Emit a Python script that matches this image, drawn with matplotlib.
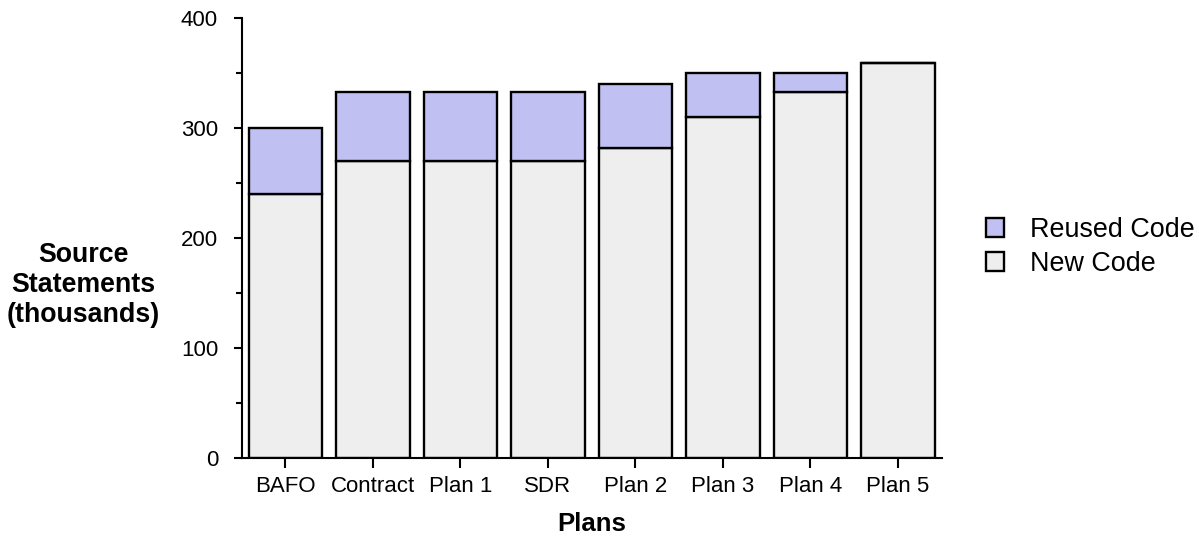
#!/usr/bin/env python3
"""Stacked bars: source statements per plan, new vs reused code."""

import matplotlib

matplotlib.use("Agg")

import matplotlib.pyplot as plt
import numpy as np
from matplotlib.ticker import MultipleLocator

plt.rcParams["font.family"] = ["Liberation Sans", "DejaVu Sans"]

# data (thousands of source statements)
plans = ["BAFO", "Contract", "Plan 1", "SDR", "Plan 2", "Plan 3", "Plan 4", "Plan 5"]
new_code = [240, 270, 270, 270, 281, 310, 332, 359]
reused_code = [60, 62, 62, 62, 59, 40, 18, 0]

NEW_COLOR = "#eeeeee"
REUSED_COLOR = "#c0c0f2"
EDGE_LW = 1.7


def main() -> int:
    fig = plt.figure(figsize=(11.99, 5.37), dpi=100)
    ax = fig.add_axes([0.2016, 0.1477, 0.5838, 0.8197])

    x = np.arange(len(plans))
    new = np.asarray(new_code, dtype=float)
    reused = np.asarray(reused_code, dtype=float)

    ax.bar(x, new, width=0.84, color=NEW_COLOR, edgecolor="black", linewidth=EDGE_LW,
           label="New Code", zorder=2)
    ax.bar(x, reused, bottom=new, width=0.84, color=REUSED_COLOR, edgecolor="black",
           linewidth=EDGE_LW, label="Reused Code", zorder=2)

    ax.set_xlim(-0.5, len(plans) - 0.5)
    ax.set_ylim(0, 400)
    ax.set_xticks(x)
    ax.set_xticklabels(plans, fontsize=16)
    ax.yaxis.set_major_locator(MultipleLocator(100))
    ax.yaxis.set_minor_locator(MultipleLocator(50))
    ax.tick_params(axis="y", which="major", length=6, width=1.5, pad=11, labelsize=16)
    ax.tick_params(axis="y", which="minor", length=4, width=1.5)
    ax.tick_params(axis="x", which="major", length=7, width=1.5, pad=6)

    for side in ("top", "right"):
        ax.spines[side].set_visible(False)
    for side in ("left", "bottom"):
        ax.spines[side].set_linewidth(1.5)

    ax.set_xlabel("Plans", fontsize=18.5, fontweight="bold")
    ax.xaxis.set_label_coords(0.5, -0.123)
    ax.set_ylabel("Source\nStatements\n(thousands)", fontsize=19.3, fontweight="bold",
                  rotation=0, ha="center", va="center", multialignment="center")
    ax.yaxis.set_label_coords(-0.2267, 0.392)

    handles, labels = ax.get_legend_handles_labels()
    fig.legend(handles[::-1], labels[::-1], loc="center left",
               bbox_to_anchor=(0.822, 0.54), frameon=False, fontsize=19.4,
               handlelength=0.7, handleheight=0.7, handletextpad=0.95,
               labelspacing=0.3, borderpad=0, borderaxespad=0)

    fig.savefig("out.png", dpi=100, facecolor="white")
    plt.close(fig)
    return 0


if __name__ == "__main__":
    raise SystemExit(main())
